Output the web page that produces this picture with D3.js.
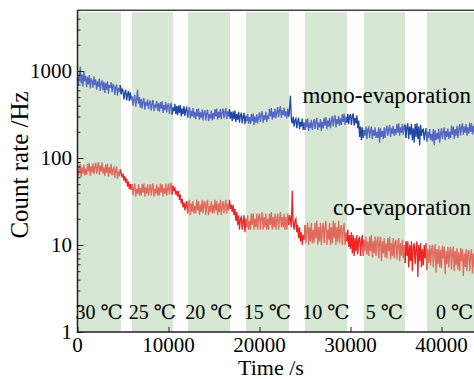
<!DOCTYPE html>
<html>
<head>
<meta charset="utf-8">
<script src="https://cdn.jsdelivr.net/npm/d3@7"></script>
<style>
  body { margin: 0; background: #fff; }
  svg { display: block; font-family: "Liberation Serif", "DejaVu Serif", serif; }
</style>
</head>
<body>
<svg id="canvas" width="474" height="379"></svg>
<script>
// temperature steps (green = held at temperature)
const bands = [[0, 4780], [5990, 10490], [12140, 16760], [18520, 23250], [25000, 29620], [31480, 36000], [38400, 44500]]
const bandLabels = ['30 ℃', '25 ℃', '20 ℃', '15 ℃', '10 ℃', '5 ℃', '0 ℃']

const xTicks = [0, 10000, 20000, 30000, 40000]
const yTicks = [1, 10, 100, 1000]

// count rate sampled every 100 s, 0 .. 44000 (one row per 1000 s)
const step = 100
const mono = [
  940, 700, 860, 1120, 720, 910, 660, 1000, 760, 880,
  650, 860, 700, 900, 630, 820, 760, 640, 870, 690,
  800, 610, 760, 660, 820, 590, 720, 780, 600, 750,
  560, 730, 610, 760, 550, 690, 640, 740, 570, 700,
  680, 530, 650, 700, 520, 640, 580, 690, 540, 620,
  600, 470, 560, 610, 460, 540, 590, 450, 570, 480,
  510, 400, 480, 530, 390, 470, 610, 420, 500, 380,
  480, 370, 450, 490, 360, 440, 400, 470, 365, 430,
  460, 350, 420, 465, 345, 410, 380, 455, 350, 425,
  340, 440, 370, 450, 330, 405, 355, 440, 335, 400,
  425, 320, 390, 430, 315, 380, 345, 420, 320, 395,
  310, 400, 330, 405, 300, 370, 320, 395, 305, 360,
  380, 290, 345, 385, 285, 350, 300, 375, 290, 340,
  280, 365, 300, 370, 275, 335, 290, 360, 270, 330,
  355, 270, 325, 360, 265, 320, 285, 350, 270, 330,
  280, 365, 300, 370, 275, 340, 290, 365, 280, 335,
  370, 285, 340, 375, 280, 345, 300, 365, 285, 340,
  265, 345, 280, 350, 260, 320, 275, 340, 255, 315,
  325, 250, 300, 330, 245, 305, 265, 320, 250, 295,
  245, 320, 265, 325, 240, 300, 255, 320, 250, 295,
  335, 260, 315, 345, 255, 310, 275, 340, 260, 310,
  280, 365, 300, 375, 275, 340, 290, 370, 285, 335,
  385, 295, 350, 395, 290, 355, 310, 380, 300, 345,
  285, 370, 300, 365, 520, 280, 250, 300, 230, 270,
  285, 220, 265, 290, 215, 260, 230, 285, 210, 255,
  210, 280, 225, 285, 205, 255, 220, 275, 210, 250,
  280, 215, 260, 290, 210, 255, 225, 280, 205, 260,
  220, 290, 235, 295, 215, 270, 230, 290, 220, 265,
  305, 230, 280, 310, 225, 280, 245, 305, 235, 285,
  240, 320, 260, 325, 240, 295, 255, 320, 245, 300,
  320, 240, 300, 325, 235, 290, 250, 310, 220, 270,
  175, 230, 160, 225, 170, 210, 180, 230, 165, 215,
  225, 170, 205, 230, 165, 210, 180, 225, 170, 200,
  170, 225, 150, 220, 175, 205, 165, 225, 170, 210,
  235, 180, 215, 240, 175, 220, 190, 235, 180, 215,
  185, 245, 195, 250, 180, 225, 195, 245, 185, 230,
  240, 170, 225, 250, 165, 230, 185, 245, 160, 220,
  150, 245, 175, 250, 165, 230, 140, 240, 180, 210,
  215, 160, 195, 220, 155, 200, 170, 215, 160, 190,
  155, 215, 140, 210, 160, 195, 165, 215, 150, 190,
  220, 165, 200, 225, 160, 205, 175, 220, 165, 200,
  170, 235, 185, 230, 165, 215, 180, 235, 170, 210,
  245, 180, 225, 250, 185, 230, 195, 245, 180, 225,
  190, 255, 200, 250, 185, 235, 195, 255, 190, 230,
  250
]
const co = [
  82, 62, 76, 86, 60, 78, 66, 84, 63, 75,
  64, 86, 70, 88, 62, 80, 68, 87, 65, 78,
  88, 66, 80, 90, 64, 82, 70, 89, 66, 78,
  62, 84, 68, 86, 61, 78, 66, 85, 63, 74,
  78, 59, 72, 80, 58, 70, 62, 74, 66, 60,
  66, 55, 62, 52, 58, 47, 54, 44, 50, 43,
  50, 37, 46, 51, 36, 44, 39, 50, 37, 45,
  37, 50, 40, 51, 36, 46, 39, 50, 37, 44,
  50, 37, 45, 51, 36, 44, 39, 50, 37, 46,
  37, 51, 40, 50, 36, 45, 39, 51, 37, 44,
  51, 38, 46, 52, 38, 48, 42, 46, 38, 42,
  36, 42, 33, 38, 30, 34, 27, 31, 25, 29,
  32, 23, 29, 33, 22, 30, 24, 32, 23, 28,
  23, 33, 25, 32, 22, 29, 24, 33, 23, 30,
  32, 22, 29, 33, 22, 28, 24, 32, 23, 29,
  23, 33, 25, 32, 22, 30, 24, 33, 22, 28,
  32, 23, 29, 33, 23, 30, 25, 33, 26, 29,
  24, 29, 22, 26, 19, 24, 17, 22, 15, 20,
  21, 15, 19, 22, 14, 20, 16, 22, 15, 19,
  15, 23, 17, 23, 15, 20, 16, 23, 15, 21,
  23, 15, 20, 24, 15, 21, 16, 23, 15, 20,
  15, 23, 17, 24, 15, 21, 16, 23, 15, 20,
  23, 15, 20, 24, 16, 21, 16, 23, 15, 21,
  15, 23, 17, 22, 20, 16, 42, 18, 15, 19,
  20, 14, 17, 12, 16, 11, 14, 10, 13, 11.5,
  17, 10.5, 15, 18, 10, 16, 11, 18, 10.5, 15,
  10.5, 18, 12, 19, 10, 16, 11, 18, 10, 15,
  18, 10.5, 16, 19, 10, 15, 11.5, 18, 10, 16,
  10.5, 19, 12, 18, 10, 16, 11, 19, 10.5, 15,
  17, 10, 15, 18, 10, 14, 11, 15, 9.5, 13,
  9, 14, 8, 13, 7.5, 12, 8.5, 13, 7.8, 11.5,
  12.5, 7.5, 11, 13, 7.5, 11.5, 8.5, 12.5, 7.8, 11,
  7.5, 12.5, 8.5, 13, 7.2, 11, 8, 12.5, 7.5, 11,
  12.5, 7, 10.5, 12.5, 6.5, 11, 8, 12, 7.2, 10.5,
  7, 12, 8.5, 12.5, 6.8, 10.5, 7.5, 12, 7, 10.5,
  11.5, 6.8, 10, 12, 6.5, 10.5, 7.5, 11.5, 7, 10,
  6.2, 11, 7.5, 11, 5.5, 10, 6.5, 11, 5, 9.5,
  10.5, 6, 9, 11, 4.3, 10, 6.5, 10.5, 5.5, 9,
  5.8, 10, 7, 10.5, 5.2, 9, 6.2, 10, 5.8, 9,
  10, 5.5, 8.5, 10.2, 4.8, 9, 6, 9.8, 5.5, 8.8,
  5.4, 9.8, 7, 9.6, 4.6, 8.5, 6, 9.5, 5.5, 8.5,
  9.5, 5.2, 8, 9.6, 5, 8.5, 5.8, 9.2, 5.2, 8.2,
  5, 9.2, 6.5, 9, 4.4, 8, 5.6, 9, 5, 8,
  8.8, 5, 7.5, 9, 4.7, 8, 5.5, 8.6, 5, 7.5,
  5
]

const svg = d3.select('#canvas')

const x = d3.scaleLinear().domain([0, 45000]).range([77.5, 487])
const y = d3.scaleLog().domain([1, 5000]).range([332, 10.2])

// bands
svg.selectAll('rect.band')
  .data(bands)
  .enter()
  .append('rect')
  .attr('class', 'band')
  .attr('x', d => x(d[0]))
  .attr('width', d => x(d[1]) - x(d[0]))
  .attr('y', y(5000) + 2)
  .attr('height', y(1) - y(5000) - 2)
  .attr('fill', '#d6e7d3')

const inBand = t => bands.some(b => t >= b[0] && t <= b[1])

// split a series in runs so the parts between steps get the darker colour
function drawSeries(values, light, dark) {
  const pts = values.map((v, i) => ({t: i * step, v: v}))
  const runs = []
  let cur = null
  pts.forEach(p => {
    const held = inBand(p.t)
    if (!cur || cur.held !== held) {
      if (cur) cur.pts.push(p)
      cur = {held: held, pts: cur ? [cur.pts[cur.pts.length - 2], p] : [p]}
      runs.push(cur)
    } else {
      cur.pts.push(p)
    }
  })
  const line = d3.line().x(d => x(d.t)).y(d => y(d.v))
  svg.selectAll(null)
    .data(runs)
    .enter()
    .append('path')
    .attr('d', d => line(d.pts))
    .attr('fill', 'none')
    .attr('stroke', d => d.held ? light : dark)
    .attr('stroke-width', 1.3)
}

drawSeries(mono, '#5567c2', '#1f47a6')
drawSeries(co, '#e06a5e', '#ee2424')

// axes, ticks point inward
const yAxis = d3.axisRight(y).tickValues(y.ticks()).tickSize(3).tickFormat('')
const yg = svg.append('g').attr('transform', 'translate(77.5,0)').call(yAxis)
yg.selectAll('.tick line').filter(d => yTicks.includes(d)).attr('x2', 6)

const xAxis = d3.axisTop(x).tickValues(xTicks).tickSize(5).tickFormat('')
svg.append('g').attr('transform', 'translate(0,332)').call(xAxis)

svg.selectAll('.domain').remove()
svg.selectAll('.tick line').attr('stroke', '#222').attr('stroke-width', 1)

svg.append('line').attr('x1', 77.5).attr('x2', 77.5).attr('y1', y(5000)).attr('y2', 332.5)
  .attr('stroke', '#222').attr('stroke-width', 1.5)
svg.append('line').attr('x1', 77).attr('x2', 487).attr('y1', 332).attr('y2', 332)
  .attr('stroke', '#222').attr('stroke-width', 1.5)
svg.append('line').attr('x1', 77).attr('x2', 487).attr('y1', y(5000)).attr('y2', y(5000))
  .attr('stroke', '#444').attr('stroke-width', 1.5)

// tick labels
svg.selectAll('text.ylab')
  .data(yTicks)
  .enter()
  .append('text')
  .attr('x', 72)
  .attr('y', d => y(d))
  .attr('dy', '0.35em')
  .attr('text-anchor', 'end')
  .attr('font-size', 21)
  .text(d => d)

svg.selectAll('text.xlab')
  .data(xTicks)
  .enter()
  .append('text')
  .attr('x', d => x(d))
  .attr('y', 352)
  .attr('text-anchor', 'middle')
  .attr('font-size', 21)
  .text(d => d)

// temperature labels
svg.selectAll('text.temp')
  .data(bands)
  .enter()
  .append('text')
  .attr('x', d => (x(d[0]) + x(d[1])) / 2)
  .attr('y', 319)
  .attr('text-anchor', 'middle')
  .attr('font-size', 20)
  .text((d, i) => bandLabels[i])

svg.append('text').attr('x', 471).attr('y', 103).attr('text-anchor', 'end')
  .attr('font-size', 23).text('mono-evaporation')
svg.append('text').attr('x', 471).attr('y', 215).attr('text-anchor', 'end')
  .attr('font-size', 23).text('co-evaporation')

svg.append('text').attr('x', 271).attr('y', 375).attr('text-anchor', 'middle')
  .attr('font-size', 22).text('Time /s')
svg.append('text').attr('transform', 'translate(28,165) rotate(-90)')
  .attr('text-anchor', 'middle').attr('font-size', 25).text('Count rate /Hz')
</script>
</body>
</html>
